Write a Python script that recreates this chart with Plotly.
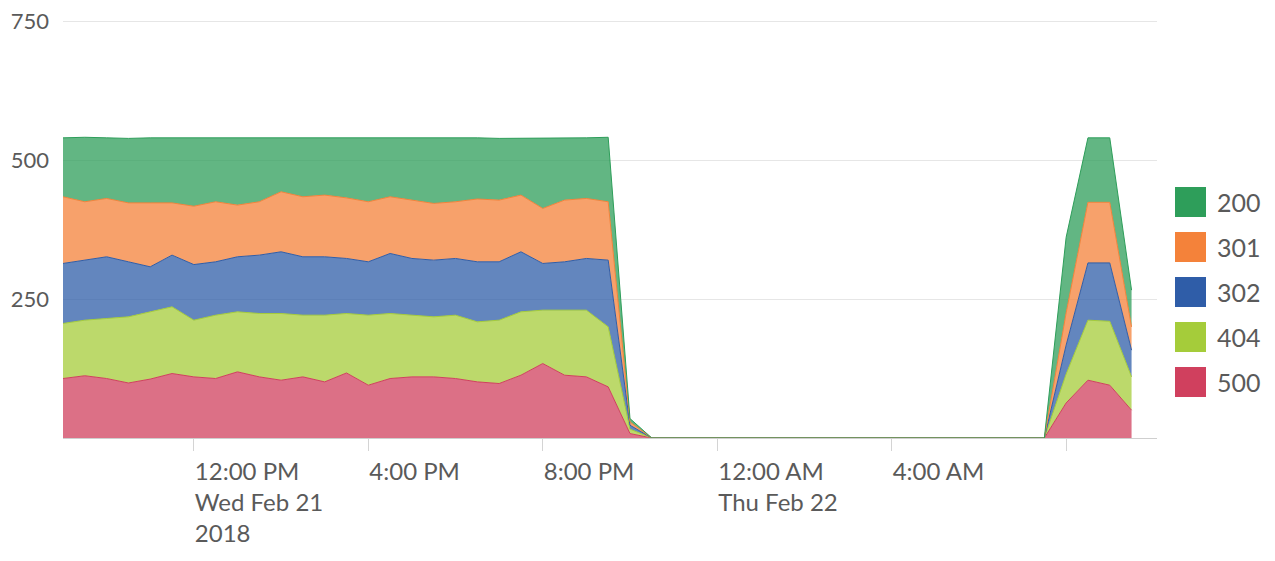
import pandas as pd
import plotly.graph_objects as go

# Half-hourly request counts per HTTP status, Wed Feb 21 09:00 -> Thu Feb 22 09:30
times = pd.date_range("2018-02-21 09:00", "2018-02-22 09:30", freq="30min")

status_codes = ["200", "301", "302", "404", "500"]

count_500 = [107, 112, 107, 99, 106, 116, 110, 107, 119, 110, 104, 110, 101, 117, 95, 107, 110, 110,
             107, 101, 98, 113, 134, 113, 110, 92, 8,
             0, 0, 0, 0, 0, 0, 0, 0, 0, 0, 0, 0, 0, 0, 0, 0, 0, 0, 0,
             63, 104, 95, 50]
count_404 = [99, 100, 108, 119, 121, 120, 102, 114, 108, 114, 120, 111, 120, 107, 126, 117, 111, 108,
             114, 108, 114, 114, 96, 117, 120, 108, 8,
             0, 0, 0, 0, 0, 0, 0, 0, 0, 0, 0, 0, 0, 0, 0, 0, 0, 0, 0,
             52, 108, 115, 60]
count_302 = [108, 108, 111, 99, 81, 93, 100, 96, 99, 105, 111, 105, 105, 99, 96, 108, 102, 102,
             102, 108, 105, 108, 84, 87, 93, 120, 7,
             0, 0, 0, 0, 0, 0, 0, 0, 0, 0, 0, 0, 0, 0, 0, 0, 0, 0, 0,
             52, 103, 105, 48]
count_301 = [120, 105, 105, 106, 115, 94, 105, 108, 93, 96, 108, 108, 111, 109, 108, 102, 105, 102,
             102, 113, 111, 102, 99, 111, 108, 105, 6,
             0, 0, 0, 0, 0, 0, 0, 0, 0, 0, 0, 0, 0, 0, 0, 0, 0, 0, 0,
             58, 109, 109, 42]
count_200 = [106, 116, 109, 116, 117, 117, 123, 116, 122, 116, 98, 107, 104, 109, 116, 107, 112, 118,
             115, 110, 111, 102, 127, 112, 109, 116, 6,
             0, 0, 0, 0, 0, 0, 0, 0, 0, 0, 0, 0, 0, 0, 0, 0, 0, 0, 0,
             136, 116, 116, 66]

series = {"200": count_200, "301": count_301, "302": count_302, "404": count_404, "500": count_500}
colors = {"200": (46, 158, 90), "301": (244, 130, 58), "302": (47, 93, 168),
          "404": (165, 204, 58), "500": (208, 64, 94)}

x_tick_times = ["2018-02-21 12:00", "2018-02-21 16:00", "2018-02-21 20:00",
                "2018-02-22 00:00", "2018-02-22 04:00", "2018-02-22 08:00"]
x_tick_text = ["12:00 PM<br>Wed Feb 21<br>2018", "4:00 PM", "8:00 PM",
               "12:00 AM<br>Thu Feb 22", "4:00 AM", ""]
y_tick_vals = [250, 500, 750]

FONT = "Lato, sans-serif"
TEXT = "#5a5a5a"
W, H = 1275, 561
ML, MR, MT, MB = 63, 118, 20, 123

fig = go.Figure()
# stack from the bottom band (500) upward
for code in reversed(status_codes):
    r, g, b = colors[code]
    fig.add_trace(go.Scatter(
        x=times, y=series[code], name=code, mode="lines", stackgroup="codes",
        line=dict(color=f"rgb({r},{g},{b})", width=1),
        fillcolor=f"rgba({r},{g},{b},0.75)", showlegend=False,
    ))

# legend drawn as square swatches to the right of the plot
pw, ph = W - ML - MR, H - MT - MB
def px_x(p):
    return (p - ML) / pw
def px_y(p):
    return (H - MB - p) / ph

shapes, annotations = [], []
for i, code in enumerate(status_codes):
    cy = 202 + 45 * i
    r, g, b = colors[code]
    shapes.append(dict(type="rect", xref="paper", yref="paper",
                       x0=px_x(1175), x1=px_x(1206), y0=px_y(cy + 15), y1=px_y(cy - 15),
                       fillcolor=f"rgb({r},{g},{b})", line=dict(width=0)))
    annotations.append(dict(xref="paper", yref="paper", x=px_x(1215), y=px_y(cy),
                            xanchor="left", yanchor="middle", text=code, showarrow=False,
                            font=dict(family=FONT, size=25, color=TEXT)))

fig.update_layout(
    width=W, height=H, margin=dict(l=ML, r=MR, t=MT, b=MB, autoexpand=False),
    paper_bgcolor="white", plot_bgcolor="white",
    font=dict(family=FONT, size=24, color=TEXT),
    shapes=shapes, annotations=annotations,
    xaxis=dict(
        type="date", range=["2018-02-21 09:00", "2018-02-22 10:05"],
        tickvals=x_tick_times, ticktext=x_tick_text,
        ticklabelposition="outside right", ticklabelstandoff=12,
        ticks="outside", ticklen=12, tickcolor="#d4d4d4", tickwidth=1,
        showgrid=False, showline=True, linecolor="#cfcfcf", linewidth=1,
        zeroline=False, automargin=False,
        tickfont=dict(family=FONT, size=24, color=TEXT),
    ),
    yaxis=dict(
        range=[0, 752], tickvals=y_tick_vals, ticktext=[str(v) for v in y_tick_vals],
        showgrid=True, gridcolor="#e6e6e6", gridwidth=1, zeroline=False,
        showline=False, ticks="", ticklabelstandoff=13, automargin=False,
        tickfont=dict(family=FONT, size=22, color=TEXT),
    ),
)

fig.write_html("out.html")
